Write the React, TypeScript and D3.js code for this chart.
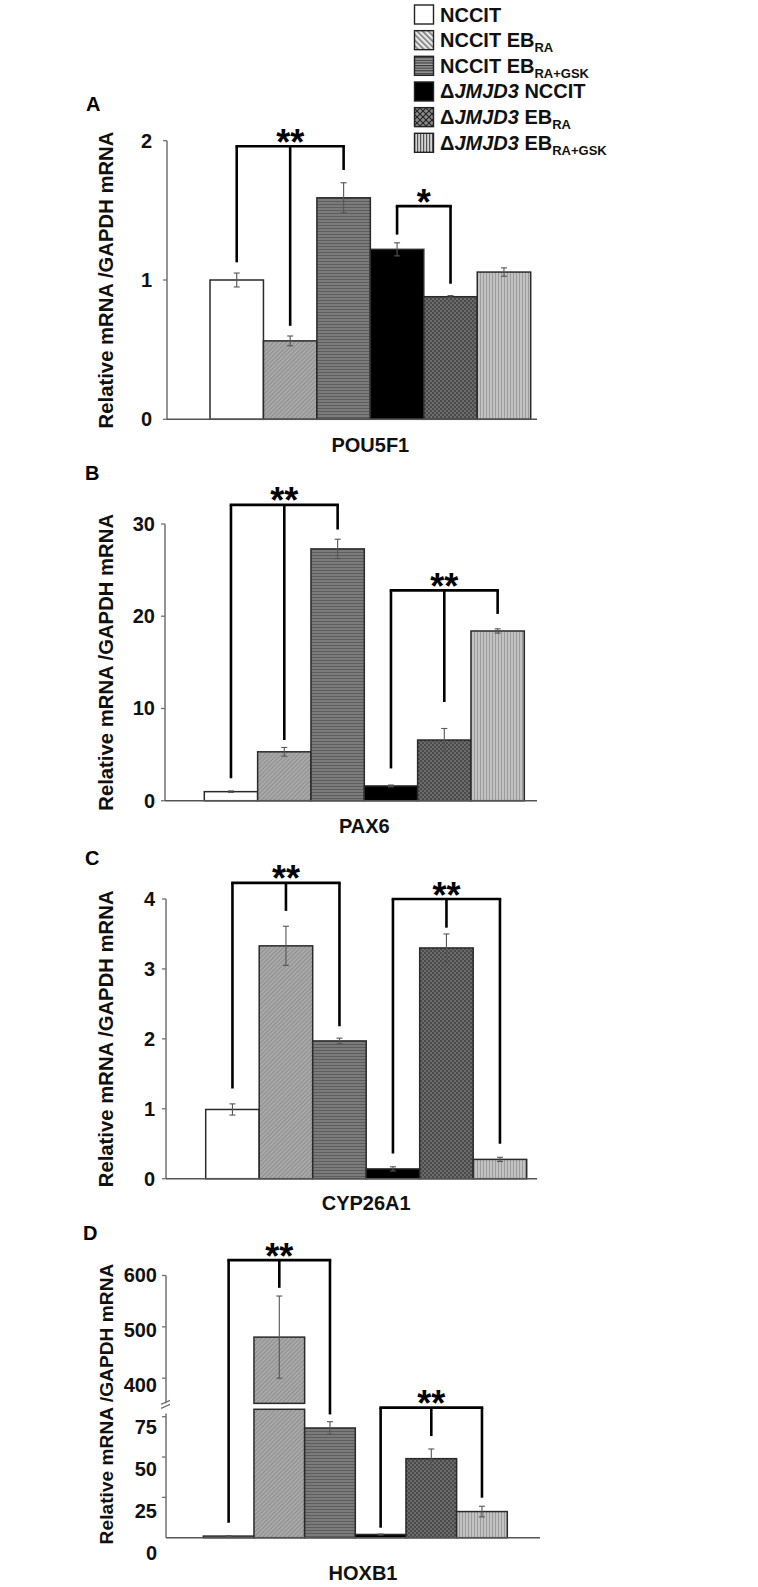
import * as d3 from "d3";

// groups shown in every panel
const groups = ["nccit", "ebRA", "ebGSK", "kNccit", "kRA", "kGSK"];
const genes = ["POU5F1", "PAX6", "CYP26A1", "HOXB1"];
const panelLetters = ["A", "B", "C", "D"];

// values (relative mRNA / GAPDH mRNA)
const pou5f1 = [1.0, 0.563, 1.59, 1.22, 0.88, 1.057];
const pou5f1Err = [0.05, 0.035, 0.108, 0.047, 0.008, 0.03];
const pax6 = [0.98, 5.3, 27.3, 1.6, 6.58, 18.4];
const pax6Err = [0.08, 0.47, 1.05, 0.1, 1.25, 0.23];
const cyp26a1 = [0.99, 3.33, 1.97, 0.14, 3.3, 0.276];
const cyp26a1Err = [0.08, 0.28, 0.04, 0.03, 0.2, 0.03];
const hoxb1 = [1, 480, 68, 2, 49, 16.2];
const hoxb1Err = [0.3, 80, 3.9, 0.3, 6, 3.3];

const ticksA = [0, 1, 2];
const ticksB = [0, 10, 20, 30];
const ticksC = [0, 1, 2, 3, 4];
const ticksDLow = [25, 50, 75];
const ticksDHigh = [400, 500, 600];

// significance brackets: legs (bar index), leg end values, top value
const sigA = [
  { legs: [0, 1, 2], ends: [1.127, 0.671, 1.79], top: 1.96, label: "**" },
  { legs: [3, 4], ends: [1.326, 0.973], top: 1.53, label: "*" },
];
const sigB = [
  { legs: [0, 1, 2], ends: [2.43, 6.58, 29.4], top: 32.07, label: "**" },
  { legs: [3, 4, 5], ends: [3.5, 10.7, 20.25], top: 22.8, label: "**" },
];
const sigC = [
  { legs: [0, 1, 2], ends: [1.29, 3.83, 2.18], top: 4.23, label: "**" },
  { legs: [3, 4, 5], ends: [0.36, 3.59, 0.5], top: 4.0, label: "**" },
];
const sigD = [
  { legs: [0, 1, 2], ends: [9.3, 576, 76.4], top: 630, label: "**" },
  { legs: [3, 4, 5], ends: [6.2, 63, 24.8], top: 80.6, label: "**" },
];

const FONT = "'Liberation Sans', Arial, Helvetica, sans-serif";
const barFill = ["#ffffff", "url(#pDiag)", "url(#pHoriz)", "#000000", "url(#pCross)", "url(#pVert)"];
const legendFill = ["#ffffff", "url(#lDiag)", "url(#lHoriz)", "#000000", "url(#lCross)", "url(#lVert)"];

type Part = { t: string; it?: boolean; sub?: boolean };
const legendRows: Part[][] = [
  [{ t: "NCCIT" }],
  [{ t: "NCCIT EB" }, { t: "RA", sub: true }],
  [{ t: "NCCIT EB" }, { t: "RA+GSK", sub: true }],
  [{ t: "\u0394" }, { t: "JMJD3", it: true }, { t: " NCCIT" }],
  [{ t: "\u0394" }, { t: "JMJD3", it: true }, { t: " EB" }, { t: "RA", sub: true }],
  [{ t: "\u0394" }, { t: "JMJD3", it: true }, { t: " EB" }, { t: "RA+GSK", sub: true }],
];

function Patterns() {
  return (
    <defs>
      <pattern id="pDiag" width="3" height="3" patternUnits="userSpaceOnUse" patternTransform="rotate(45)">
        <rect width="3" height="3" fill="#a9a9a9" />
        <rect width="1" height="3" fill="#8e8e8e" />
      </pattern>
      <pattern id="pHoriz" width="4" height="3" patternUnits="userSpaceOnUse">
        <rect width="4" height="3" fill="#7b7b7b" />
        <rect width="4" height="1" fill="#5d5d5d" />
      </pattern>
      <pattern id="pCross" width="4" height="4" patternUnits="userSpaceOnUse">
        <rect width="4" height="4" fill="#6c6c6c" />
        <rect width="2" height="2" fill="#4a4a4a" />
        <rect x="2" y="2" width="2" height="2" fill="#4a4a4a" />
      </pattern>
      <pattern id="pVert" width="3" height="4" patternUnits="userSpaceOnUse">
        <rect width="3" height="4" fill="#c2c2c2" />
        <rect width="1" height="4" fill="#9c9c9c" />
      </pattern>
      <pattern id="lDiag" width="4" height="4" patternUnits="userSpaceOnUse" patternTransform="rotate(-45)">
        <rect width="4" height="4" fill="#e8e8e8" />
        <rect width="1.6" height="4" fill="#7a7a7a" />
      </pattern>
      <pattern id="lHoriz" width="4" height="2.6" patternUnits="userSpaceOnUse">
        <rect width="4" height="2.6" fill="#a0a0a0" />
        <rect width="4" height="1.2" fill="#3a3a3a" />
      </pattern>
      <pattern id="lCross" width="6" height="6" patternUnits="userSpaceOnUse">
        <rect width="6" height="6" fill="#8a8a8a" />
        <path d="M0,0L6,6M6,0L0,6" stroke="#222" strokeWidth="1.1" />
      </pattern>
      <pattern id="lVert" width="3" height="4" patternUnits="userSpaceOnUse">
        <rect width="3" height="4" fill="#d4d4d4" />
        <rect width="1.2" height="4" fill="#555" />
      </pattern>
    </defs>
  );
}

type Sig = { legs: number[]; ends: number[]; top: number; label: string };

function Brackets({ sig, x, y }: { sig: Sig[]; x: d3.ScaleBand<string>; y: (v: number) => number }) {
  const cx = (i: number) => (x(groups[i]) as number) + x.bandwidth() / 2;
  return (
    <g>
      {sig.map((s, k) => {
        const x0 = cx(s.legs[0]);
        const x1 = cx(s.legs[s.legs.length - 1]);
        const yt = y(s.top);
        return (
          <g key={k} stroke="#000" strokeWidth={2.6} fill="none">
            <path d={`M${x0},${yt}H${x1}`} strokeLinecap="square" />
            {s.legs.map((li, j) => (
              <line key={j} x1={cx(li)} x2={cx(li)} y1={yt} y2={y(s.ends[j])} />
            ))}
            <text
              x={(x0 + x1) / 2}
              y={yt - 11.5 + 20}
              textAnchor="middle"
              fontSize={36}
              fontWeight="bold"
              fontFamily={FONT}
              fill="#000"
              stroke="none"
            >
              {s.label}
            </text>
          </g>
        );
      })}
    </g>
  );
}

function Bars({ values, errs, x, y, base }: { values: number[]; errs: number[]; x: d3.ScaleBand<string>; y: (v: number) => number; base: number }) {
  return (
    <g>
      {values.map((v, i) => {
        const x0 = x(groups[i]) as number;
        return (
          <rect key={i} x={x0} y={y(v)} width={x.bandwidth()} height={base - y(v)} fill={barFill[i]} stroke="#2a2a2a" strokeWidth={1.5} />
        );
      })}
      <ErrBars values={values} errs={errs} x={x} y={y} />
    </g>
  );
}

function ErrBars({ values, errs, x, y }: { values: number[]; errs: number[]; x: d3.ScaleBand<string>; y: (v: number) => number }) {
  return (
    <g stroke="#555" strokeWidth={1.1}>
      {values.map((v, i) => {
        const c = (x(groups[i]) as number) + x.bandwidth() / 2;
        const lo = y(v - errs[i]);
        const hi = y(v + errs[i]);
        return (
          <g key={i}>
            <line x1={c} x2={c} y1={lo} y2={hi} />
            <line x1={c - 3} x2={c + 3} y1={lo} y2={lo} />
            <line x1={c - 3} x2={c + 3} y1={hi} y2={hi} />
          </g>
        );
      })}
    </g>
  );
}

function YLabel({ cx, cy, size }: { cx: number; cy: number; size: number }) {
  return (
    <text transform={`translate(${cx},${cy}) rotate(-90)`} textAnchor="middle" fontSize={size} fontWeight="bold" fontFamily={FONT} fill="#111">
      Relative mRNA /GAPDH mRNA
    </text>
  );
}

type Simple = {
  letter: string; gene: string; values: number[]; errs: number[]; ticks: number[]; sig: Sig[];
  axisX: number; band: [number, number]; yDom: [number, number]; yRange: [number, number];
  labelY: number; letterPos: [number, number]; tickGap: number;
};

function SimplePanel(p: Simple) {
  const x = d3.scaleBand<string>().domain(groups).range(p.band).paddingInner(0);
  const y = d3.scaleLinear().domain(p.yDom).range(p.yRange);
  const base = y(0);
  const top = y(d3.max(p.ticks) as number);
  return (
    <g>
      <text x={p.letterPos[0]} y={p.letterPos[1]} fontSize={20} fontWeight="bold" fontFamily={FONT}>{p.letter}</text>
      <YLabel cx={113} cy={(top + base) / 2 + 0} size={20.3} />
      <line x1={p.axisX} x2={p.axisX} y1={top} y2={base} stroke="#707070" strokeWidth={1.5} />
      {p.ticks.map((t) => (
        <g key={t}>
          <line x1={p.axisX - 4} x2={p.axisX} y1={y(t)} y2={y(t)} stroke="#707070" strokeWidth={1.3} />
          <text x={p.axisX - p.tickGap} y={y(t) + 7} textAnchor="end" fontSize={20} fontWeight="bold" fontFamily={FONT} fill="#111">{t}</text>
        </g>
      ))}
      <Bars values={p.values} errs={p.errs} x={x} y={y} base={base} />
      <line x1={p.axisX} x2={537} y1={base} y2={base} stroke="#555" strokeWidth={1.6} />
      <Brackets sig={p.sig} x={x} y={y} />
      <text x={(p.band[0] + p.band[1]) / 2} y={p.labelY} textAnchor="middle" fontSize={20} fontWeight="bold" fontFamily={FONT} fill="#111">{p.gene}</text>
    </g>
  );
}

function BrokenPanel() {
  const axisX = 166;
  const x = d3.scaleBand<string>().domain(groups).range([203.3, 507.3]).paddingInner(0);
  const yLow = d3.scaleLinear().domain([0, 75]).range([1537.7, 1416.7]);
  const yHigh = d3.scaleLinear().domain([400, 600]).range([1378.2, 1275.5]);
  const y = (v: number) => (v < 300 ? yLow(v) : yHigh(v));
  // tick labels in the original sit a little below their ticks
  const labLow = d3.scaleLinear().domain([0, 75]).range([1553.3, 1426.7]);
  const labHigh = d3.scaleLinear().domain([400, 600]).range([1385, 1275]);
  const lowCap = 79.6;
  const highFloor = 351;
  const lowAxisTop = 77;
  const base = yLow(0);
  return (
    <g>
      <text x={83} y={1240} fontSize={20} fontWeight="bold" fontFamily={FONT}>D</text>
      <YLabel cx={113} cy={1404} size={19.2} />
      <line x1={axisX} x2={axisX} y1={yHigh(600)} y2={yHigh(highFloor)} stroke="#707070" strokeWidth={1.5} />
      <line x1={axisX} x2={axisX} y1={yLow(lowAxisTop)} y2={base} stroke="#707070" strokeWidth={1.5} />
      <path d={`M${axisX - 5},${yHigh(highFloor) + 1}L${axisX + 4},${yHigh(highFloor) - 3}M${axisX - 5},${yHigh(highFloor) + 5}L${axisX + 4},${yHigh(highFloor) + 1}`} stroke="#707070" strokeWidth={1.2} />
      {ticksDHigh.map((t) => (
        <g key={t}>
          <line x1={axisX - 4} x2={axisX} y1={yHigh(t)} y2={yHigh(t)} stroke="#707070" strokeWidth={1.3} />
          <text x={axisX - 9} y={labHigh(t) + 7} textAnchor="end" fontSize={20} fontWeight="bold" fontFamily={FONT} fill="#111">{t}</text>
        </g>
      ))}
      {ticksDLow.map((t) => (
        <g key={t}>
          <line x1={axisX - 4} x2={axisX} y1={yLow(t)} y2={yLow(t)} stroke="#707070" strokeWidth={1.3} />
          <text x={axisX - 9} y={labLow(t) + 7} textAnchor="end" fontSize={20} fontWeight="bold" fontFamily={FONT} fill="#111">{t}</text>
        </g>
      ))}
      <text x={axisX - 9} y={labLow(0) + 7} textAnchor="end" fontSize={20} fontWeight="bold" fontFamily={FONT} fill="#111">0</text>
      {hoxb1.map((v, i) => {
        const x0 = x(groups[i]) as number;
        const w = x.bandwidth();
        if (v < 300) {
          return <rect key={i} x={x0} y={yLow(v)} width={w} height={base - yLow(v)} fill={barFill[i]} stroke="#2a2a2a" strokeWidth={1.5} />;
        }
        return (
          <g key={i}>
            <rect x={x0} y={yLow(lowCap)} width={w} height={base - yLow(lowCap)} fill={barFill[i]} stroke="#2a2a2a" strokeWidth={1.5} />
            <rect x={x0} y={yHigh(v)} width={w} height={yHigh(highFloor) - yHigh(v)} fill={barFill[i]} stroke="#2a2a2a" strokeWidth={1.5} />
          </g>
        );
      })}
      <ErrBars values={hoxb1} errs={hoxb1Err} x={x} y={y} />
      <line x1={axisX} x2={540} y1={base} y2={base} stroke="#555" strokeWidth={1.6} />
      <Brackets sig={sigD} x={x} y={y} />
      <text x={363} y={1580} textAnchor="middle" fontSize={20} fontWeight="bold" fontFamily={FONT} fill="#111">{genes[3]}</text>
    </g>
  );
}

function Legend() {
  const row = d3.scaleLinear().domain([0, 5]).range([5, 133.3]);
  return (
    <g fontFamily={FONT} fontWeight="bold" fill="#111">
      {legendRows.map((parts, i) => (
        <g key={i}>
          <rect x={414.5} y={row(i)} width={19} height={19} fill={legendFill[i]} stroke="#222" strokeWidth={1.4} />
          <text x={440} y={row(i) + 16.5} fontSize={20}>
            {parts.map((p, j) => (
              <tspan
                key={j}
                fontStyle={p.it ? "italic" : undefined}
                fontSize={p.sub ? 13 : undefined}
                dy={p.sub ? 5 : 0}
              >
                {p.t}
              </tspan>
            ))}
          </text>
        </g>
      ))}
    </g>
  );
}

export default function App() {
  return (
    <svg width={758} height={1587} style={{ position: "absolute", left: 0, top: 0, background: "#fff" }}>
      <Patterns />
      <rect width={758} height={1587} fill="#fff" />
      <Legend />
      <SimplePanel letter={panelLetters[0]} gene={genes[0]} values={pou5f1} errs={pou5f1Err} ticks={ticksA} sig={sigA}
        axisX={167} band={[210, 530.7]} yDom={[0, 2]} yRange={[419.3, 140.7]} labelY={452} letterPos={[86, 111]} tickGap={15} />
      <SimplePanel letter={panelLetters[1]} gene={genes[1]} values={pax6} errs={pax6Err} ticks={ticksB} sig={sigB}
        axisX={165} band={[204.3, 524.3]} yDom={[0, 30]} yRange={[800.7, 524]} labelY={833} letterPos={[85, 480]} tickGap={10} />
      <SimplePanel letter={panelLetters[2]} gene={genes[2]} values={cyp26a1} errs={cyp26a1Err} ticks={ticksC} sig={sigC}
        axisX={166} band={[205.7, 526.7]} yDom={[0, 4]} yRange={[1178.7, 899]} labelY={1210} letterPos={[85, 865]} tickGap={11} />
      <BrokenPanel />
    </svg>
  );
}
